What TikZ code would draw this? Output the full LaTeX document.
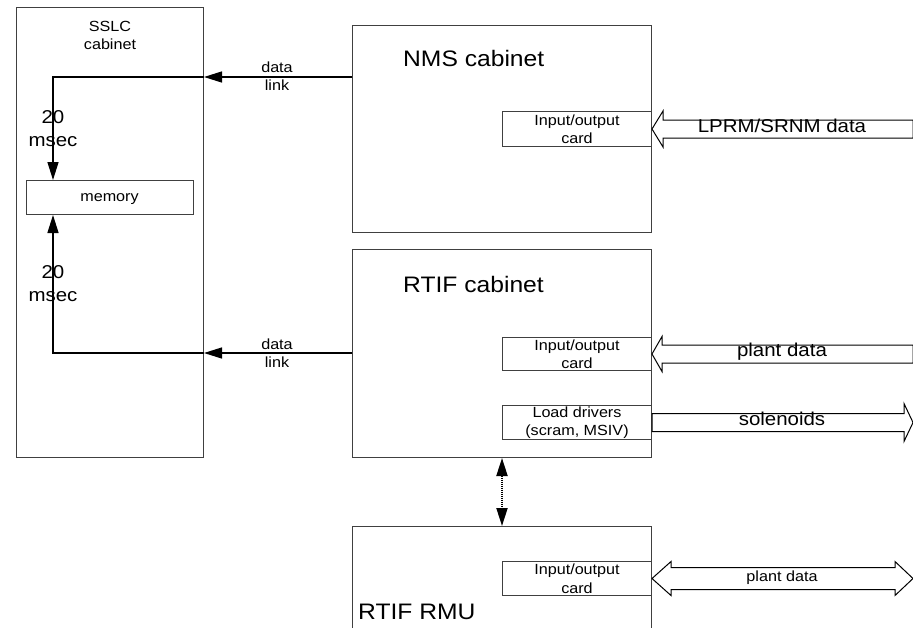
\documentclass[tikz,border=0pt]{standalone}
\usepackage{fontspec}
\setmainfont[FakeStretch=1.1]{Liberation Sans}
\usetikzlibrary{arrows.meta}
\tikzset{
  box/.style={draw=black!75, line width=1pt, inner sep=0pt, anchor=north west},
  small/.style={font=\fontsize{14.7}{18.5}\selectfont, align=center, inner sep=0pt},
  mid/.style={font=\fontsize{18.6}{23}\selectfont, align=center, inner sep=0pt},
  big/.style={font=\fontsize{22.4}{26}\selectfont, inner sep=0pt, anchor=west},
  tri/.tip={Triangle[length=18pt,width=11pt]},
  conn/.style={line width=1.4pt, black},
  fat/.style={draw=black, line width=1pt, fill=white, line join=miter},
  dotlink/.style={line width=2pt, dash pattern=on 1.2pt off 0.8pt, {tri}-{tri}}
}
\begin{document}
\begin{tikzpicture}[x=1pt, y=-1pt]
\clip (0,0) rectangle (913,627);
\fill[white] (0,0) rectangle (913,627);

% SSLC cabinet with its memory
\node[box, minimum width=187, minimum height=450] (sslc) at (16,7) {};
\node[small] (sslcname) at (110,35.5) {SSLC\\cabinet};
\node[box, minimum width=167, minimum height=34] (mem) at (26,180) {};
\node[small, anchor=mid] (memtxt) at (109.5,199) {memory};

% NMS cabinet
\node[box, minimum width=299, minimum height=207] (nms) at (352,25) {};
\node[big] (nmsname) at (403,58) {NMS cabinet};
\node[box, minimum width=149, minimum height=35] (nmscard) at (502,111) {};
\node[small] (nmscardtxt) at (nmscard.center) {Input/output\\card};

% RTIF cabinet
\node[box, minimum width=299, minimum height=208] (rtif) at (352,249) {};
\node[big] (rtifname) at (403,284) {RTIF cabinet};
\node[box, minimum width=149, minimum height=33] (iocard) at (502,337) {};
\node[small] (iocardtxt) at (iocard.center) {Input/output\\card};
\node[box, minimum width=149, minimum height=34] (drv) at (502,405) {};
\node[small] (drvtxt) at (drv.center) {Load drivers\\(scram, MSIV)};

% RTIF RMU
\node[box, minimum width=299, minimum height=120] (rmu) at (352,526) {};
\node[big] (rmuname) at (358,612) {RTIF RMU};
\node[box, minimum width=149, minimum height=34] (rmucard) at (502,561) {};
\node[small] (rmucardtxt) at (rmucard.center) {Input/output\\card};

% data links into the SSLC memory
\draw[conn, -{tri}] (nms.west |- 0,77) -- (sslc.east |- 0,77);
\draw[conn, -{tri}] (sslc.east |- 0,77) -| (mem.north -| 53,0);
\node[small] (dl1) at (277,76) {data\\link};
\node[mid] (ms1) at (53,128.5) {20\\msec};

\draw[conn, -{tri}] (rtif.west |- 0,353) -- (sslc.east |- 0,353);
\draw[conn, -{tri}] (sslc.east |- 0,353) -| (mem.south -| 53,0);
\node[small] (dl2) at (277,353) {data\\link};
\node[mid] (ms2) at (53,284) {20\\msec};

% RTIF cabinet to RMU
\draw[dotlink] (rtif.south -| 502,0) -- (rmu.north -| 502,0);

% wide signal arrows
\draw[fat] (nmscard.east) -- ++(11,-18) -- ++(0,9) -- ++(250,0) -- ++(0,18)
  -- ++(-250,0) -- ++(0,9) -- cycle;
\node[mid, anchor=mid] (lprm) at (782,129.5) {LPRM/SRNM data};

\draw[fat] (iocard.east) -- ++(10,-17.5) -- ++(0,8.5) -- ++(251,0) -- ++(0,18)
  -- ++(-251,0) -- ++(0,8.5) -- cycle;
\node[mid, anchor=mid] (pd1) at (782,353.5) {plant data};

\draw[fat] (drv.east) ++(0,-9) -- ++(252,0) -- ++(0,-10) -- ++(9,19) -- ++(-9,19)
  -- ++(0,-10) -- ++(-252,0) -- cycle;
\node[mid, anchor=mid] (sol) at (782,422.5) {solenoids};

\draw[fat] (rmucard.east) -- ++(19,-17) -- ++(0,6) -- ++(224,0) -- ++(0,-6)
  -- ++(18,17) -- ++(-18,17) -- ++(0,-6) -- ++(-224,0) -- ++(0,6) -- cycle;
\node[small, anchor=mid] (pd2) at (782,578.5) {plant data};
\end{tikzpicture}
\end{document}
